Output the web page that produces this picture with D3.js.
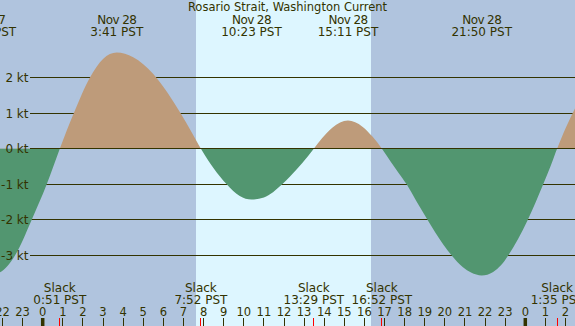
<!DOCTYPE html>
<html><head><meta charset="utf-8">
<script src="https://cdn.jsdelivr.net/npm/d3@7"></script>
<style>html,body{margin:0;padding:0;background:#b0c4de;overflow:hidden}svg{display:block}</style>
</head><body><svg id="c" width="575" height="326"></svg>
<script>
// ---- data (hours relative to Nov 28 00:00 PST) ----
const title = "Rosario Strait, Washington Current";
const flowHours = [-3.4,-2.8,-2.12,-1.38,-0.55,0.2,0.85,1.2,1.55,2.35,3.0,3.68,4.5,5.5,6.2,6.85,7.4,7.87,
  8.5,9.15,9.8,10.38,11.0,11.91,12.3,12.9,13.48,13.9,14.4,15.18,15.9,16.4,16.87,
  17.3,17.7,18.1,18.6,19.12,19.5,20.34,20.9,21.3,21.83,22.4,22.8,23.15,24.12,24.89,25.25,25.58,25.9,26.36,26.47,27.0];
const flowKnots = [-3.50,-3.56,-3.47,-3.0,-2.0,-1.0,0,0.52,1.0,2.0,2.52,2.70,2.57,2.10,1.58,1.0,0.47,0,
  -0.55,-1.0,-1.33,-1.43,-1.37,-1.0,-0.78,-0.41,0,0.30,0.59,0.79,0.62,0.34,0,
  -0.36,-0.68,-1.0,-1.49,-1.98,-2.33,-3.0,-3.33,-3.48,-3.56,-3.46,-3.27,-3.0,-2.0,-1.0,-0.5,0,0.44,1.0,1.13,1.85];
const extremeHours = [-2.83, 3.683, 10.383, 15.183, 21.833];
const extremeDates = ["Nov 27","Nov 28","Nov 28","Nov 28","Nov 28"];
const extremeTimes = ["21:10 PST","3:41 PST","10:23 PST","15:11 PST","21:50 PST"];
const slackHours = [0.85, 7.867, 13.483, 16.867, 25.583];
const slackTimes = ["0:51 PST","7:52 PST","13:29 PST","16:52 PST","1:35 PST"];
const hourTicks = [-2,-1,0,1,2,3,4,5,6,7,8,9,10,11,12,13,14,15,16,17,18,19,20,21,22,23,24,25,26];
const hourLabels = ["22","23","0","1","2","3","4","5","6","7","8","9","10","11","12","13","14","15","16","17","18","19","20","21","22","23","0","1","2"];
const midnights = [0, 24];
const ktTicks = [2,1,0,-1,-2,-3];
const ktLabels = ["2 kt","1 kt","0 kt","-1 kt","-2 kt","-3 kt"];
const sunrise = 7.617, sunset = 16.317;

// ---- drawing ----
const W = 575, H = 326;
const ink = "#333300", font = "DejaVu Sans";
const x = d3.scaleLinear().domain([0, 24]).range([42.7, 525.3]);
const y = d3.scaleLinear().domain([-3, 2]).range([255.5, 77.5]);
const svg = d3.select("#c").attr("font-family", font);
const snap = v => Math.floor(v) + 0.5;

svg.append("rect").attr("width", W).attr("height", H).attr("fill", "#b0c4de");
svg.append("rect").attr("x", Math.round(x(sunrise))).attr("y", 0)
  .attr("width", Math.round(x(sunset)) - Math.round(x(sunrise))).attr("height", H).attr("fill", "#ddf6ff");

// grid lines
svg.append("g").selectAll("line").data(ktTicks).join("line")
  .attr("x1", 30).attr("x2", W).attr("y1", d => snap(y(d))).attr("y2", d => snap(y(d)))
  .attr("stroke", ink).attr("stroke-width", 1);

// flow area split at zero
const zeroY = snap(y(0));
const defs = svg.append("defs");
defs.append("clipPath").attr("id", "up").append("rect").attr("x", 0).attr("y", 0).attr("width", W).attr("height", zeroY);
defs.append("clipPath").attr("id", "dn").append("rect").attr("x", 0).attr("y", zeroY).attr("width", W).attr("height", H - zeroY);
const pts = flowHours.map((h, i) => [h, flowKnots[i]]);
const area = d3.area().x(d => x(d[0])).y0(zeroY).y1(d => y(d[1])).curve(d3.curveMonotoneX);
svg.append("path").attr("d", area(pts)).attr("fill", "#be9b7a").attr("clip-path", "url(#up)");
svg.append("path").attr("d", area(pts)).attr("fill", "#529670").attr("clip-path", "url(#dn)");
svg.append("line").attr("x1", 30).attr("x2", W).attr("y1", zeroY).attr("y2", zeroY).attr("stroke", ink);

// kt labels
svg.append("g").selectAll("text").data(ktTicks).join("text")
  .attr("x", 28.5).attr("y", d => snap(y(d)) + 4.5).attr("text-anchor", "end")
  .attr("font-size", 12).attr("fill", ink).text((d, i) => ktLabels[i]);

// title
svg.append("text").attr("x", 287.5).attr("y", 11).attr("text-anchor", "middle")
  .attr("font-size", 11.5).attr("fill", ink).text(title);

// extremes labels
const ex = svg.append("g").attr("text-anchor", "middle").attr("font-size", 12).attr("fill", ink);
ex.selectAll("text.d").data(extremeHours).join("text").attr("class", "d")
  .attr("x", d => x(d)).attr("y", 24).attr("letter-spacing", -0.6).text((d, i) => extremeDates[i]);
ex.selectAll("text.t").data(extremeHours).join("text").attr("class", "t")
  .attr("x", d => x(d)).attr("y", 36).text((d, i) => extremeTimes[i]);

// slack labels
const sl = svg.append("g").attr("text-anchor", "middle").attr("font-size", 12).attr("fill", ink);
sl.selectAll("text.s").data(slackHours).join("text").attr("class", "s")
  .attr("x", d => x(d)).attr("y", 292).text("Slack");
sl.selectAll("text.t").data(slackHours).join("text").attr("class", "t")
  .attr("x", d => x(d)).attr("y", 303.5).text((d, i) => slackTimes[i]);

// hour labels and ticks
svg.append("g").selectAll("text").data(hourTicks).join("text")
  .attr("x", d => x(d)).attr("y", 316).attr("text-anchor", "middle")
  .attr("font-size", 11.5).attr("fill", ink).text((d, i) => hourLabels[i]);
svg.append("g").selectAll("line").data(hourTicks).join("line")
  .attr("x1", d => snap(x(d))).attr("x2", d => snap(x(d))).attr("y1", 318).attr("y2", H)
  .attr("stroke", ink).attr("stroke-width", 1);
svg.append("g").selectAll("line").data(midnights).join("line")
  .attr("x1", d => x(d)).attr("x2", d => x(d)).attr("y1", 318).attr("y2", H)
  .attr("stroke", ink).attr("stroke-width", 3.5);
svg.append("g").selectAll("line").data(slackHours).join("line")
  .attr("x1", d => snap(x(d))).attr("x2", d => snap(x(d))).attr("y1", 318).attr("y2", H)
  .attr("stroke", "#ff0000").attr("stroke-width", 1);
</script></body></html>
